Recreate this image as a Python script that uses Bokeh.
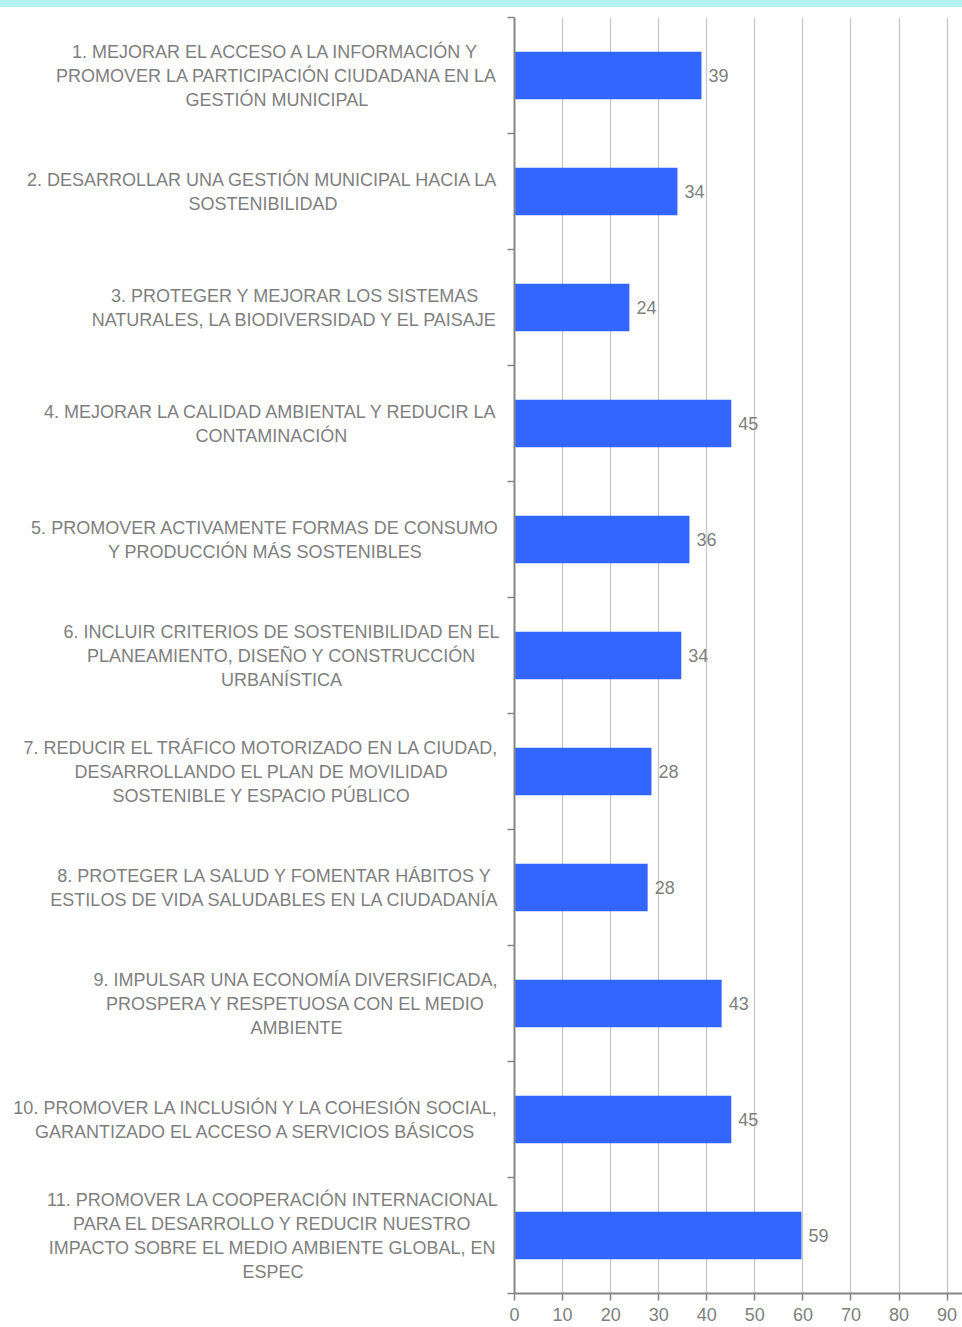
from bokeh.plotting import figure
from bokeh.layouts import column, row
from bokeh.models import Range1d, FixedTicker, ColumnDataSource, Div
from bokeh.core.properties import value
from bokeh.embed import file_html
from bokeh.resources import INLINE

# ---------------- data ----------------
categories = [
    "1. MEJORAR EL ACCESO A LA INFORMACIÓN Y\nPROMOVER LA PARTICIPACIÓN CIUDADANA EN LA\nGESTIÓN MUNICIPAL",
    "2. DESARROLLAR UNA GESTIÓN MUNICIPAL HACIA LA\nSOSTENIBILIDAD",
    "3. PROTEGER Y MEJORAR LOS SISTEMAS\nNATURALES, LA BIODIVERSIDAD Y EL PAISAJE",
    "4. MEJORAR LA CALIDAD AMBIENTAL Y REDUCIR LA\nCONTAMINACIÓN",
    "5. PROMOVER ACTIVAMENTE FORMAS DE CONSUMO\nY PRODUCCIÓN MÁS SOSTENIBLES",
    "6. INCLUIR CRITERIOS DE SOSTENIBILIDAD EN EL\nPLANEAMIENTO, DISEÑO Y CONSTRUCCIÓN\nURBANÍSTICA",
    "7. REDUCIR EL TRÁFICO MOTORIZADO EN LA CIUDAD,\nDESARROLLANDO EL PLAN DE MOVILIDAD\nSOSTENIBLE Y ESPACIO PÚBLICO",
    "8. PROTEGER LA SALUD Y FOMENTAR HÁBITOS Y\nESTILOS DE VIDA SALUDABLES EN LA CIUDADANÍA",
    "9. IMPULSAR UNA ECONOMÍA DIVERSIFICADA,\nPROSPERA Y RESPETUOSA CON EL MEDIO\nAMBIENTE",
    "10. PROMOVER LA INCLUSIÓN Y LA COHESIÓN SOCIAL,\nGARANTIZADO EL ACCESO A SERVICIOS BÁSICOS",
    "11. PROMOVER LA COOPERACIÓN INTERNACIONAL\nPARA EL DESARROLLO Y REDUCIR NUESTRO\nIMPACTO SOBRE EL MEDIO AMBIENTE GLOBAL, EN\nESPEC",
]
values = [38.9, 33.9, 23.9, 45.1, 36.4, 34.7, 28.5, 27.7, 43.1, 45.1, 59.7]
value_labels = ["39", "34", "24", "45", "36", "34", "28", "28", "43", "45", "59"]
x_ticks = [0, 10, 20, 30, 40, 50, 60, 70, 80, 90]

# ---------------- style ----------------
FONT = "Liberation Sans"
TEXT_COLOR = "#7f7f7f"
BAR_COLOR = "#3366ff"
AXIS_COLOR = "#868686"
GRID_COLOR = "#c8c8c8"
TOP_COLOR = "#b4f2f2"
LABEL_PX = 18
LABEL_RIGHT = 499  # right edge of label block in label-figure pixels

# Arial / Liberation Sans advance widths (per 1000 em)
_W = {' ': 278, '.': 278, ',': 278}
_W.update({d: 556 for d in "0123456789"})
_W.update(dict(A=667, B=667, C=722, D=722, E=667, F=611, G=778, H=722, I=278,
               J=500, K=667, L=556, M=833, N=722, O=778, P=667, Q=778, R=722,
               S=667, T=611, U=722, V=667, W=944, X=667, Y=667, Z=611))
_ACC = {'Á': 'A', 'É': 'E', 'Í': 'I', 'Ó': 'O', 'Ú': 'U', 'Ñ': 'N'}


def text_width(s, px):
    return sum(_W.get(_ACC.get(c, c), 600) for c in s) * px / 1000.0


n = len(categories)
ypos = [i + 0.5 for i in range(n)]
label_x = [LABEL_RIGHT - max(text_width(l, LABEL_PX) for l in c.split("\n")) / 2
           for c in categories]

y_range = Range1d(n, 0)

# ---------------- top cyan strip ----------------
top = Div(text="", width=962, height=7,
          styles={"background-color": TOP_COLOR, "margin": "0", "padding": "0"})

# ---------------- category labels ----------------
lab = figure(frame_width=504, frame_height=1276, x_range=Range1d(0, 504), y_range=y_range,
             toolbar_location=None, output_backend="svg", x_axis_type=None, y_axis_type=None,
             min_border_top=10, min_border_bottom=34, min_border_left=0, min_border_right=0,
             outline_line_color=None)
lab.grid.visible = False
lab.text(x=label_x, y=ypos, text=categories, text_align="center", text_baseline="middle",
         text_font=value(FONT), text_font_size=f"{LABEL_PX}px", text_color=TEXT_COLOR,
         text_line_height=1.2)

# ---------------- bar chart ----------------
p = figure(frame_width=448, frame_height=1276, x_range=Range1d(0, 93.2), y_range=y_range,
           toolbar_location=None, output_backend="svg",
           min_border_top=10, min_border_bottom=34, min_border_left=10, min_border_right=0,
           outline_line_color=None)

src = ColumnDataSource(dict(y=ypos, v=values, t=value_labels))
p.hbar(y="y", right="v", left=0, height=0.41, source=src, fill_color=BAR_COLOR,
       line_color=None)
p.text(x="v", y="y", text="t", source=src, x_offset=7, text_align="left",
       text_baseline="middle", text_font=value(FONT), text_font_size="18px",
       text_color=TEXT_COLOR)

p.xaxis.ticker = FixedTicker(ticks=x_ticks)
p.xgrid.ticker = FixedTicker(ticks=x_ticks)
p.xgrid.grid_line_color = GRID_COLOR
p.xgrid.grid_line_width = 1.3
p.ygrid.visible = False
p.xaxis.axis_line_color = AXIS_COLOR
p.xaxis.axis_line_width = 2
p.xaxis.major_tick_line_color = AXIS_COLOR
p.xaxis.major_tick_line_width = 1.5
p.xaxis.major_tick_in = 0
p.xaxis.major_tick_out = 7
p.xaxis.minor_tick_line_color = None
p.xaxis.major_label_standoff = 7
p.xaxis.major_label_text_font = FONT
p.xaxis.major_label_text_font_size = "18px"
p.xaxis.major_label_text_color = TEXT_COLOR

p.yaxis.ticker = FixedTicker(ticks=list(range(n + 1)))
p.yaxis.major_label_overrides = {i: "" for i in range(n + 1)}
p.yaxis.axis_line_color = AXIS_COLOR
p.yaxis.axis_line_width = 2
p.yaxis.major_tick_line_color = AXIS_COLOR
p.yaxis.major_tick_line_width = 1.5
p.yaxis.major_tick_in = 0
p.yaxis.major_tick_out = 7
p.yaxis.minor_tick_line_color = None
p.yaxis.major_label_standoff = 0

layout = column(top, row(lab, p))

open("out.html", "w").write(file_html(layout, INLINE))
